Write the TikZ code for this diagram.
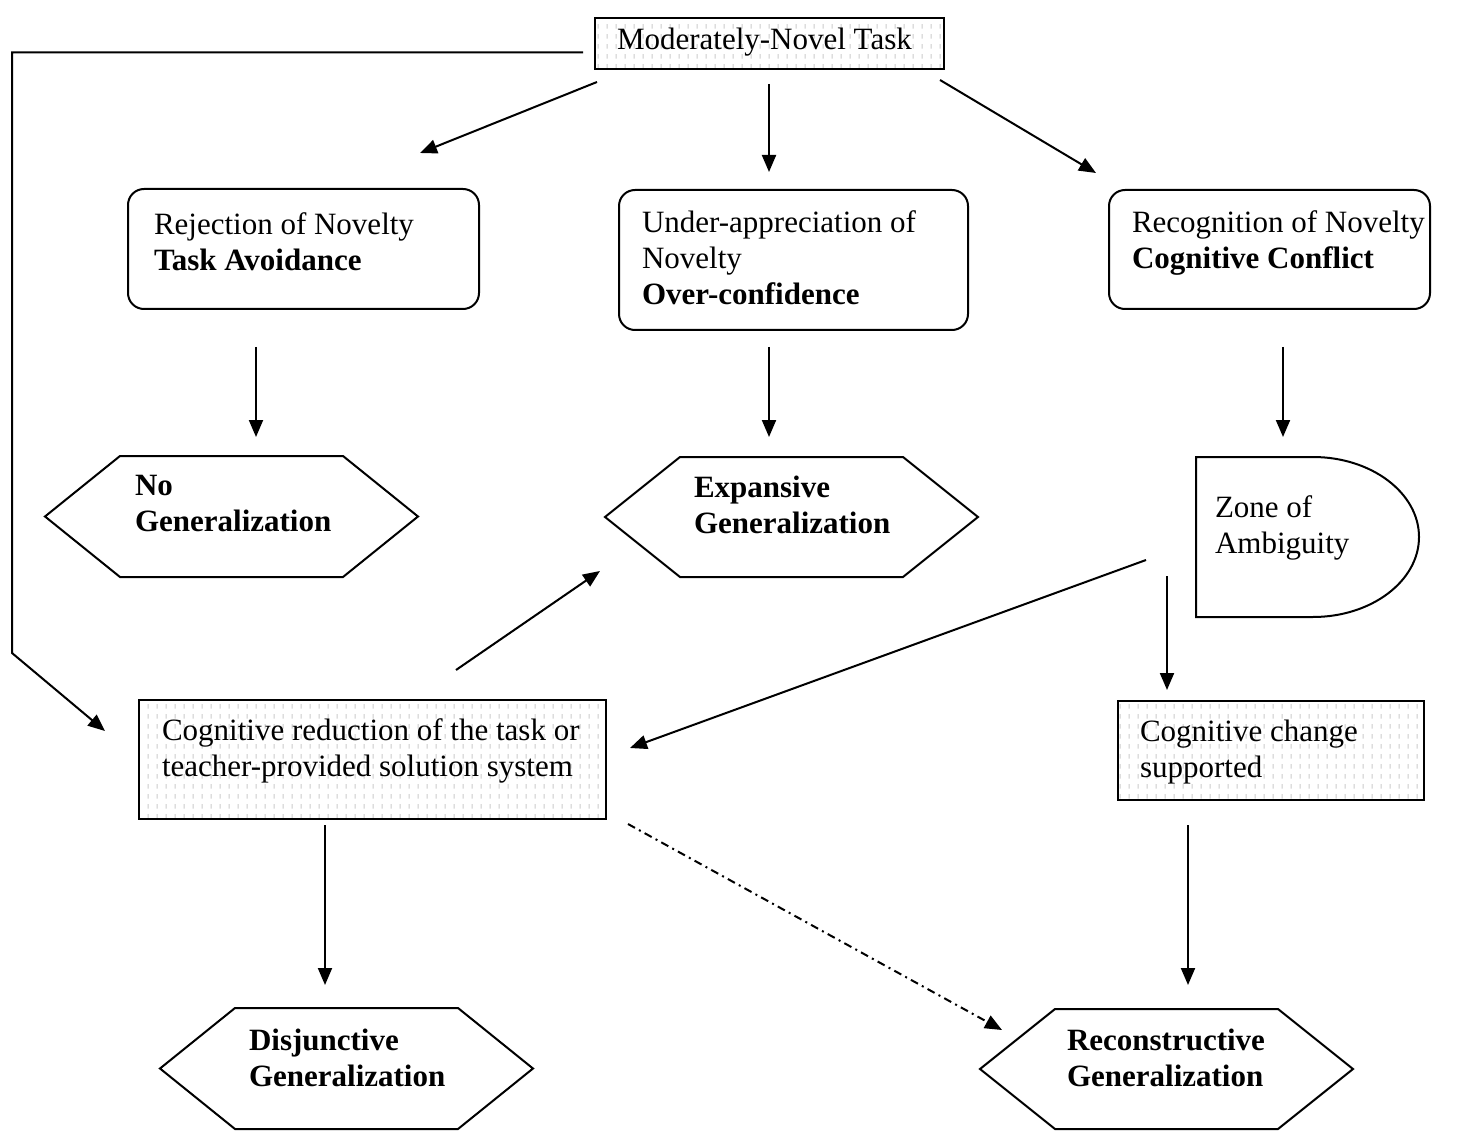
\documentclass[tikz,border=0pt]{standalone}
\usepackage{fontspec}
\setmainfont{Liberation Serif}
\usetikzlibrary{arrows.meta,patterns.meta,calc}

\tikzdeclarepattern{
  name=wordticks,
  type=colored,
  bounding box={(0pt,0pt) and (9pt,10pt)},
  tile size={(9pt,10pt)},
  code={\draw[line width=1.1pt, black!20] (4.5pt,2.5pt) -- (4.5pt,7.5pt);}
}

% #1 style, #2 name, #3 x, #4 y (north west), #5 width, #6 height, #7 left inset, #8 first baseline, #9 text
\newcommand\mkbox[9]{%
  \node[#1, anchor=north west, inner sep=0pt, outer sep=0pt] (#2) at (#3,#4)
    {\parbox[c][#6pt][t]{#5pt}{\raggedright\leftskip=#7pt\relax\rule{0pt}{#8pt}#9}};}

\newcommand\hexpath[1]{%
  \draw[shapeline] (#1.west) -- ([xshift=75pt]#1.north west) -- ([xshift=-75pt]#1.north east)
    -- (#1.east) -- ([xshift=-75pt]#1.south east) -- ([xshift=75pt]#1.south west) -- cycle;}

\tikzset{
  shapeline/.style={draw, line width=2pt, line join=miter},
  roundbox/.style={draw, line width=2pt, rounded corners=16pt},
  tickbox/.style={draw, line width=2pt, pattern=wordticks},
  plain/.style={draw=none},
  arr/.style={draw, line width=2pt, -{Triangle[length=17pt,width=14pt]}},
  dasharr/.style={arr, dash pattern=on 8pt off 4.5pt on 2pt off 4.5pt}
}

\begin{document}
\begin{tikzpicture}[x=1pt, y=-1pt, font=\fontsize{31}{36}\selectfont]
\fill[white] (0,0) rectangle (1469,1131);
\useasboundingbox (0,0) rectangle (1469,1131);

% boxes
\mkbox{tickbox}{top}{595}{18}{349}{51}{22}{32}{Moderately-Novel Task}
\mkbox{roundbox}{b1}{128}{189}{351}{120}{26}{46}{Rejection of Novelty\\\textbf{Task Avoidance}}
\mkbox{roundbox}{b2}{619}{190}{349}{140}{23}{43}{Under-appreciation of\\Novelty\\\textbf{Over-confidence}}
\mkbox{roundbox}{b3}{1109}{190}{321}{119}{23}{43}{Recognition of Novelty\\\textbf{Cognitive Conflict}}

% hexagons
\mkbox{plain}{h1}{45}{456}{373}{121}{90}{39}{\textbf{No}\\\textbf{Generalization}}
\hexpath{h1}
\mkbox{plain}{h2}{605}{457}{373}{120}{89}{40}{\textbf{Expansive}\\\textbf{Generalization}}
\hexpath{h2}
\mkbox{plain}{h3}{160}{1008}{373}{121}{89}{42}{\textbf{Disjunctive}\\\textbf{Generalization}}
\hexpath{h3}
\mkbox{plain}{h4}{980}{1009}{373}{120}{87}{41}{\textbf{Reconstructive}\\\textbf{Generalization}}
\hexpath{h4}

% zone of ambiguity (delay shape)
\mkbox{plain}{zone}{1196}{457}{223}{160}{19}{60}{Zone of\\Ambiguity}
\draw[shapeline] (zone.north west) -- ([xshift=117pt]zone.north west)
  .. controls ([xshift=175.5pt]zone.north west) and ([yshift=44pt]zone.east) .. (zone.east)
  .. controls ([yshift=-44pt]zone.east) and ([xshift=175.5pt]zone.south west) .. ([xshift=117pt]zone.south west)
  -- (zone.south west) -- cycle;

% lower boxes
\mkbox{tickbox}{cogred}{139}{700}{467}{119}{23}{40}{Cognitive reduction of the task or\\teacher-provided solution system}
\mkbox{tickbox}{cogchg}{1118}{701}{306}{99}{22}{40}{Cognitive change\\supported}

% connectors
\draw[arr] ([shift={(2,13)}]top.south west) -- ([shift={(-59,-36)}]b1.north east);
\draw[arr] ([shift={(-0.5,15)}]top.south) -- ([shift={(-24.5,-18)}]b2.north);
\draw[arr] ([shift={(-4,11)}]top.south east) -- ([shift={(-13,-17)}]b3.north west);
\draw[arr] ([shift={(-12,9)}]top.west) -- ++(-571,0) -- ++(0,600.5) -- ([shift={(-34,31)}]cogred.north west);

\draw[arr] ([shift={(-47.5,38)}]b1.south) -- ([shift={(24.5,-19)}]h1.north);
\draw[arr] ([shift={(-24.5,17)}]b2.south) -- ([shift={(-22.5,-20)}]h2.north);
\draw[arr] ([shift={(13.5,38)}]b3.south) -- ([shift={(-24.5,-20)}]zone.north);

\draw[arr] ([shift={(83.5,-30)}]cogred.north) -- ([shift={(-5,-6)}]h2.south west);
\draw[arr] ([shift={(-50,23)}]zone.west) -- ([shift={(24,-11.5)}]cogred.east);
\draw[arr] ([shift={(-29,-41)}]zone.south west) -- ([shift={(49,-11)}]cogchg.north west);

\draw[arr] ([shift={(-47.5,6)}]cogred.south) -- ([shift={(-21.5,-23)}]h3.north);
\draw[arr] ([shift={(-83,25)}]cogchg.south) -- ([shift={(21.5,-24)}]h4.north);
\draw[dasharr] ([shift={(22,5)}]cogred.south east) -- ([shift={(22,-39)}]h4.west);
\end{tikzpicture}
\end{document}
